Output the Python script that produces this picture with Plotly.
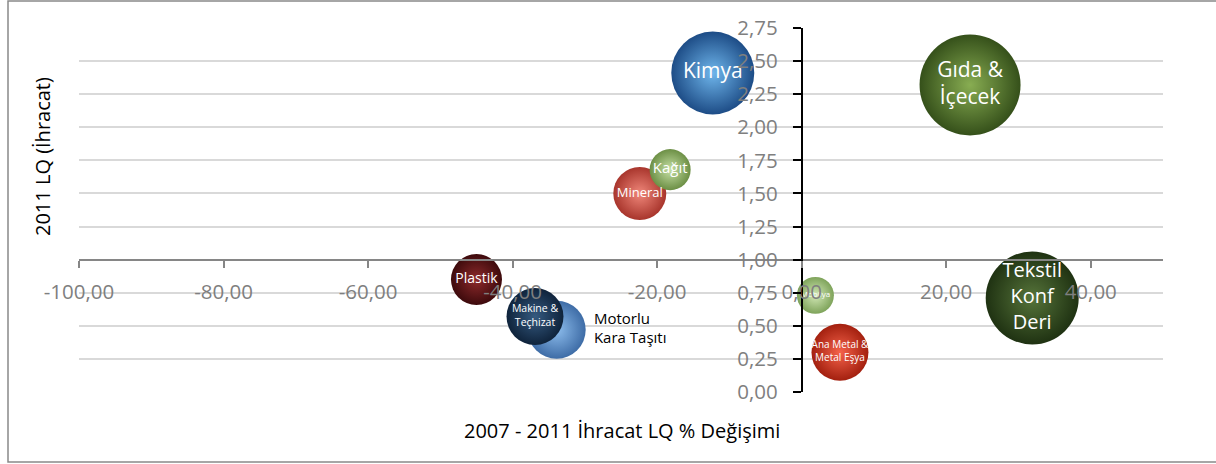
import plotly.graph_objects as go

# sectors, 2007-2011 export LQ change (%), 2011 export LQ, bubble weight
sectors = ["Kimya", "Gıda &<br>İçecek", "Tekstil<br>Konf<br>Deri", "Mineral", "Kağıt",
           "Plastik", "Motorlu<br>Kara Taşıtı", "Makine &<br>Teçhizat", "Mobilya",
           "Ana Metal &<br>Metal Eşya"]
lq_change = [-12.3, 23.3, 31.9, -22.4, -18.2, -45.0, -33.9, -36.9, 1.9, 5.3]
lq_2011 = [2.41, 2.32, 0.71, 1.50, 1.68, 0.85, 0.47, 0.57, 0.73, 0.30]
bubble_value = [67.5, 100.0, 84.8, 27.5, 16.5, 25.5, 33.0, 31.8, 13.4, 31.8]

x_ticks = [-100, -80, -60, -40, -20, 0, 20, 40]
x_tick_labels = ["-100,00", "-80,00", "-60,00", "-40,00", "-20,00", "0,00", "20,00", "40,00"]
y_ticks = [0, 0.25, 0.5, 0.75, 1.0, 1.25, 1.5, 1.75, 2.0, 2.25, 2.5, 2.75]

# styling per bubble: edge colour, highlight colour, label size, label colour
edge_colors = ["#1d4c86", "#35501a", "#1f3212", "#a8352c", "#6c8f45",
               "#3d0a0c", "#3e6ca6", "#0f233b", "#7ea35a", "#a3200f"]
glow_colors = ["#6fb6ec", "#88ad52", "#56743a", "#f0877a", "#c6e0a4",
               "#8e2a2c", "#8cbcec", "#355a80", "#d2e8b6", "#f5624a"]
label_sizes = [21, 21, 20, 13, 15, 14, 15, 10.5, 8, 10]
label_colors = ["white"] * 6 + ["black"] + ["white"] * 3
label_pos = ["middle center"] * 6 + ["middle right"] + ["middle center"] * 3

FONT = "Open Sans"

fig = go.Figure()
fig.add_trace(go.Scatter(
    x=lq_change, y=lq_2011, text=sectors,
    mode="markers+text",
    textposition=label_pos,
    textfont=dict(family=FONT, size=label_sizes, color=label_colors),
    marker=dict(
        size=bubble_value, sizemode="area",
        sizeref=2 * max(bubble_value) / 101 ** 2,
        color=edge_colors, opacity=1,
        gradient=dict(type="radial", color=glow_colors),
        line=dict(width=0),
    ),
    hoverinfo="skip", showlegend=False,
))

fig.update_layout(
    width=1216, height=464,
    margin=dict(l=79, r=53, t=28, b=72),
    paper_bgcolor="white", plot_bgcolor="white",
    separators=",.",
    font=dict(family=FONT, color="#7f7f7f"),
    showlegend=False,
)

fig.update_xaxes(
    range=[-100, 50], tickvals=x_ticks, ticktext=x_tick_labels,
    showgrid=False, zeroline=False,
    showline=True, linecolor="#868686", linewidth=2,
    ticks="outside", ticklen=7, tickcolor="#868686", tickwidth=1.5,
    tickfont=dict(size=20.5, color="#7f7f7f"), ticklabelstandoff=7,
    anchor="free", position=1 / 2.75,
)
fig.update_yaxes(
    range=[0, 2.75], tickvals=y_ticks, tickformat=".2f",
    showgrid=True, gridcolor="#d9d9d9", gridwidth=1.5, zeroline=False,
    showline=True, linecolor="black", linewidth=1.5,
    ticks="outside", ticklen=8, tickcolor="black", tickwidth=1.5,
    tickfont=dict(size=20.5, color="#7f7f7f"), ticklabelstandoff=11,
    anchor="free", position=100 / 150,
)

fig.add_annotation(
    text="2011 LQ (İhracat)", textangle=-90, showarrow=False,
    xref="paper", yref="paper", x=(42 - 79) / 1084, y=(392 - 157) / 364,
    xanchor="center", yanchor="middle",
    font=dict(family=FONT, size=20, color="black"),
)
fig.add_annotation(
    text="2007 - 2011 İhracat LQ % Değişimi", showarrow=False,
    xref="paper", yref="paper", x=(622 - 79) / 1084, y=(392 - 430) / 364,
    xanchor="center", yanchor="middle",
    font=dict(family=FONT, size=20, color="black"),
)

# chart frame
fig.add_shape(
    type="rect", xref="paper", yref="paper",
    x0=(8 - 79) / 1084, x1=(1230 - 79) / 1084,
    y0=(392 - 462) / 364, y1=(392 - 1) / 364,
    line=dict(color="#898989", width=1.5), layer="below",
)

fig.write_html("out.html", config={"displayModeBar": False},
               post_script="document.body.style.margin='0px';")
